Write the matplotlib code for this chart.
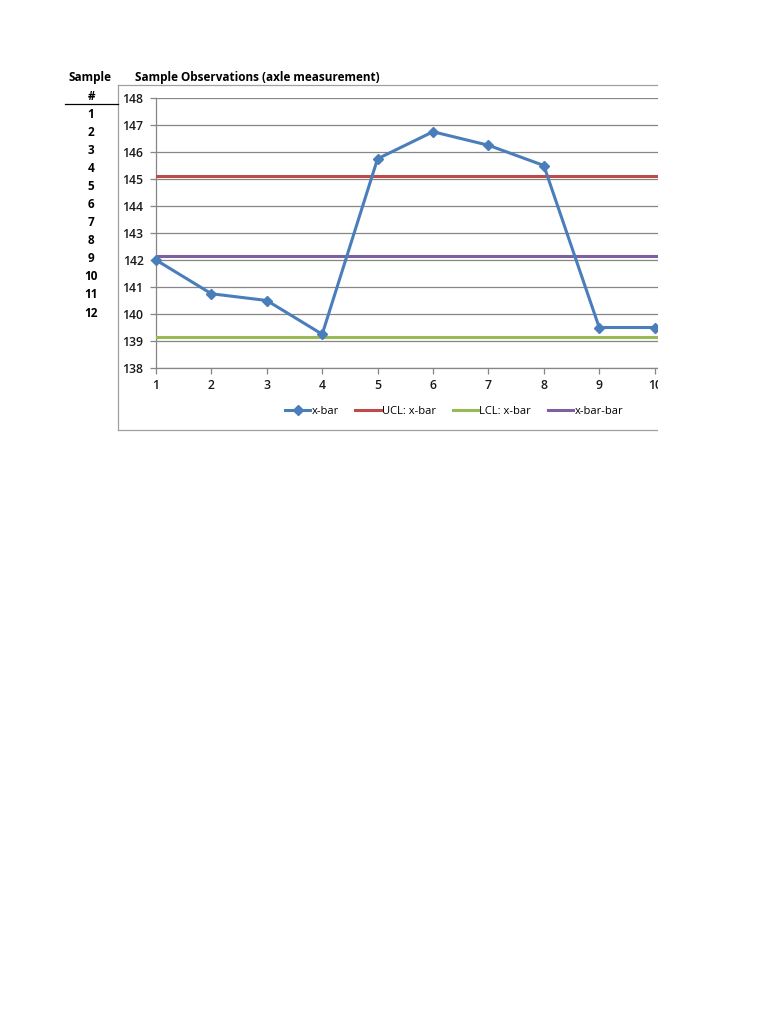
import numpy as np
import matplotlib.pyplot as plt
from matplotlib.lines import Line2D
from matplotlib.patches import Rectangle

plt.rcParams['font.family'] = ['Open Sans', 'DejaVu Sans']

# data
samples = np.arange(1, 13)
xbar_x = [1, 2, 3, 4, 5, 6, 7, 8, 9, 10]
xbar = [142.0, 140.75, 140.5, 139.25, 145.75, 146.75, 146.25, 145.5, 139.5, 139.5]
ucl = 145.12
lcl = 139.16
xbarbar = 142.14
y_ticks = list(range(138, 149))

blue = '#4A7EBB'
red = '#BE4B48'
green = '#98B954'
purple = '#7D60A0'
grid_c = '#868686'

W, H = 768, 1024
fig = plt.figure(figsize=(W / 100, H / 100), dpi=100)


def fx(px):
    return px / W


def fy(py):
    return 1 - py / H


# plot area in pixels: left 156, right 658, top 98 (148), bottom 368 (138)
ax = fig.add_axes([fx(156), fy(368), fx(658) - fx(156), fy(98) - fy(368)])
ax.set_ylim(138, 148)
ax.set_xlim(1, 1 + (658 - 156) / 55.4)
ax.set_yticks(y_ticks)
ax.set_xticks(xbar_x)
ax.yaxis.grid(True, color=grid_c, linewidth=0.9)
ax.set_axisbelow(True)
for s in ['top', 'right']:
    ax.spines[s].set_visible(False)
for s in ['left', 'bottom']:
    ax.spines[s].set_color(grid_c)
    ax.spines[s].set_linewidth(0.9)
ax.tick_params(axis='both', colors=grid_c, length=4, width=0.9, labelsize=8.8)
for lab in ax.get_xticklabels() + ax.get_yticklabels():
    lab.set_color('#1a1a1a')
    lab.set_fontweight('semibold')
ax.tick_params(axis='x', pad=4)
ax.tick_params(axis='y', pad=5)

ax.axhline(ucl, color=red, lw=2.2, zorder=3)
ax.axhline(lcl, color=green, lw=2.2, zorder=3)
ax.axhline(xbarbar, color=purple, lw=2.2, zorder=3)
ax.plot(xbar_x, xbar, color=blue, lw=2.2, marker='D', markersize=5, zorder=4, clip_on=False)

# legend
handles = [
    Line2D([], [], color=blue, lw=2.2, marker='D', markersize=5),
    Line2D([], [], color=red, lw=2.2),
    Line2D([], [], color=green, lw=2.2),
    Line2D([], [], color=purple, lw=2.2),
]
labels = ['x-bar', 'UCL: x-bar', 'LCL: x-bar', 'x-bar-bar']
fig.legend(handles, labels, loc='center', bbox_to_anchor=(fx(454), fy(411)), ncol=4,
           frameon=False, fontsize=8, handlelength=2.3, handletextpad=0.1, columnspacing=1.5)

# chart frame (cropped at right)
fig.add_artist(Line2D([fx(118), fx(658)], [fy(85), fy(85)], color='#a0a0a0', lw=0.9))
fig.add_artist(Line2D([fx(118), fx(658)], [fy(430), fy(430)], color='#a0a0a0', lw=0.9))
fig.add_artist(Line2D([fx(118), fx(118)], [fy(85), fy(430)], color='#a0a0a0', lw=0.9))

# crop everything right of the chart window
fig.add_artist(Rectangle((fx(658), fy(445)), 1 - fx(658), fy(60) - fy(445),
                         transform=fig.transFigure, facecolor='white', edgecolor='none', zorder=10))

# spreadsheet cells
fig.text(fx(135), fy(77), 'Sample Observations (axle measurement)', fontsize=8.5,
         fontweight='bold', va='center', ha='left')
fig.text(fx(90), fy(77), 'Sample', fontsize=8.5, fontweight='bold', va='center', ha='center')
fig.text(fx(91), fy(96), '#', fontsize=8.5, fontweight='bold', va='center', ha='center')
fig.add_artist(Line2D([fx(65), fx(118)], [fy(104), fy(104)], color='black', lw=0.9))
for i, s in enumerate(samples):
    fig.text(fx(91), fy(114 + i * 18.1), str(s), fontsize=8.5, fontweight='bold',
             va='center', ha='center')

fig.savefig('out.png', dpi=100)
